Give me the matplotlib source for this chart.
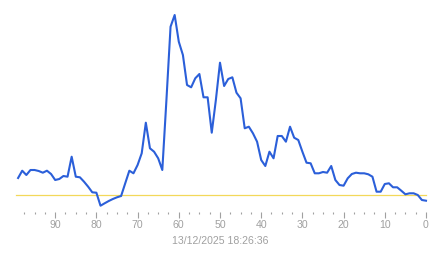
import matplotlib
matplotlib.use("Agg")
import matplotlib.pyplot as plt
import numpy as np
from matplotlib.ticker import FixedLocator

# x positions: 99 (oldest, left) .. 0 (latest, right)
x_values = list(range(99, -1, -1))
series = [
    32, 39.3, 35, 40, 40, 39, 37.3, 39.3, 36, 30,
    31, 34, 33.3, 53.3, 33.3, 32.7, 28.3, 23.3, 17.7, 17.3,
    4.3, 6.7, 9, 11, 12.7, 14, 26.7, 39.3, 36.7, 45,
    56.7, 87.3, 61.7, 58.3, 51.7, 40, 110, 183.3, 195, 168.3,
    155, 125, 122.7, 131.7, 136, 112.7, 112.7, 77.3, 110, 147.3,
    124, 131, 132.7, 117.3, 111.7, 81.7, 83.3, 76.7, 68.3, 50,
    44, 58.3, 51.7, 74, 74, 68.3, 83.3, 72.3, 70, 58.3,
    47.3, 46.7, 36.7, 36.7, 38, 37.3, 44, 30, 25, 24.3,
    31.7, 36, 37.3, 36.7, 36.7, 35.7, 33.3, 18.3, 18.3, 26,
    26.7, 22.7, 22.7, 19.3, 15.7, 16.7, 16.7, 15, 10, 9.3,
]
reference_level = 15
major_ticks = [90, 80, 70, 60, 50, 40, 30, 20, 10, 0]
tick_labels = ["90", "80", "70", "60", "50", "40", "30", "20", "10", "0"]
timestamp = "13/12/2025 18:26:36"

W, H = 443, 258
fig = plt.figure(figsize=(W / 100, H / 100), dpi=100)
left_px, right_px = 18.1, 426.0
top_px, bottom_px = 10.0, 212.0
ax = fig.add_axes([left_px / W, 1 - bottom_px / H,
                   (right_px - left_px) / W, (bottom_px - top_px) / H])

ax.plot(x_values, series, color="#2b5fd9", lw=1.5, clip_on=False,
        solid_joinstyle="round", zorder=3)
ax.plot([99.4, 0], [reference_level, reference_level], color="#f3d85a",
        lw=0.9, clip_on=False, zorder=2)

ax.set_xlim(99, 0)
ax.set_ylim(-2, 200)
for s in ax.spines.values():
    s.set_visible(False)
ax.set_yticks([])
ax.xaxis.set_major_locator(FixedLocator(major_ticks))
ax.set_xticklabels(tick_labels)
minor = [m for m in np.arange(0, 100, 2.5) if m % 10 != 0]
ax.xaxis.set_minor_locator(FixedLocator(minor))
ax.tick_params(axis="x", which="major", direction="out", length=4,
               width=0.8, color="#a0a0a0", pad=2, labelsize=7.6,
               labelcolor="#a0a0a0")
ax.tick_params(axis="x", which="minor", direction="out", length=1.3,
               width=0.8, color="#a0a0a0")
for lab in ax.get_xticklabels():
    lab.set_family("Liberation Sans")

fig.text(220 / W, 1 - 241 / H, timestamp, ha="center", va="center",
         fontsize=7.6, color="#a0a0a0", family="Liberation Sans")

fig.savefig("out.png", dpi=100)
